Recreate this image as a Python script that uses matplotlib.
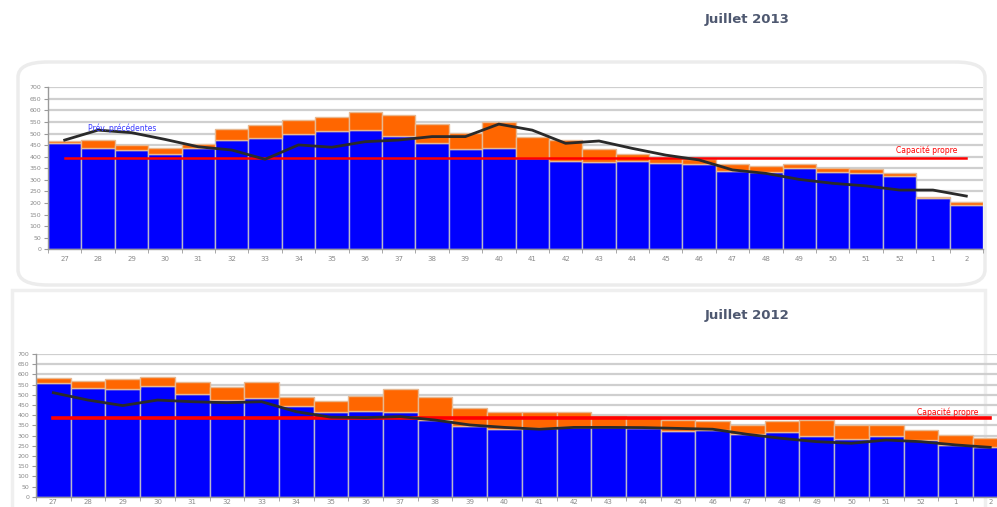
import matplotlib.pyplot as plt
from matplotlib.patches import FancyBboxPatch
import numpy as np

# weeks shown on both charts
weeks = ["27", "28", "29", "30", "31", "32", "33", "34", "35", "36", "37", "38", "39", "40",
         "41", "42", "43", "44", "45", "46", "47", "48", "49", "50", "51", "52", "1", "2"]

# Juillet 2013
blue_2013 = [458, 436, 429, 410, 436, 472, 480, 498, 511, 515, 491, 458, 432, 436,
             393, 382, 377, 382, 372, 367, 338, 335, 350, 333, 331, 318, 220, 191]
total_2013 = [470, 472, 451, 436, 455, 518, 537, 559, 570, 595, 580, 541, 504, 551,
              487, 472, 432, 410, 393, 390, 369, 360, 367, 353, 346, 331, 227, 206]
prev_2013 = [472, 515, 504, 475, 443, 429, 389, 451, 441, 465, 472, 487, 487, 541,
             515, 458, 468, 436, 407, 386, 343, 328, 302, 285, 274, 256, 256, 230]
capa_2013 = 393

# Juillet 2012
blue_2012 = [556, 535, 528, 543, 504, 474, 486, 445, 417, 420, 417, 376, 347, 331,
             335, 340, 340, 339, 324, 327, 308, 319, 299, 282, 298, 278, 254, 245]
total_2012 = [581, 568, 577, 586, 561, 540, 564, 491, 470, 494, 528, 491, 434, 417,
              414, 414, 396, 389, 376, 371, 352, 371, 376, 352, 352, 327, 303, 286]
prev_2012 = [510, 474, 447, 474, 466, 461, 466, 417, 390, 388, 393, 376, 352, 340,
             331, 340, 340, 339, 335, 331, 306, 286, 270, 262, 278, 270, 254, 242]
capa_2012 = 388

W, H = 997, 507
fig = plt.figure(figsize=(W / 100, H / 100), dpi=100)

# panel frames (pixel coords -> figure fraction)
def px(x0, y0, x1, y1):
    return [x0 / W, 1 - y1 / H, (x1 - x0) / W, (y1 - y0) / H]

frame_top = FancyBboxPatch((18 / W, 1 - 285 / H), (985 - 18) / W, (285 - 62) / H,
                           boxstyle="round,pad=0,rounding_size=0.03",
                           transform=fig.transFigure, fc="none", ec="#ececec", lw=2.5,
                           zorder=-5)
fig.patches.append(frame_top)
frame_bot = FancyBboxPatch((12 / W, 1 - 560 / H), (985 - 12) / W, (560 - 290) / H,
                           boxstyle="square,pad=0",
                           transform=fig.transFigure, fc="none", ec="#efefef", lw=2.5,
                           zorder=-5)
fig.patches.append(frame_bot)

fig.text(747 / W, 1 - 19 / H, "Juillet 2013", ha="center", va="center",
         fontsize=9.5, fontweight="bold", color="#4e5870")
fig.text(747 / W, 1 - 315 / H, "Juillet 2012", ha="center", va="center",
         fontsize=9.5, fontweight="bold", color="#4e5870")


def draw(ax, blue, total, prev, capa, lbl_y, lw_red, pad):
    x = np.arange(len(weeks))
    orange = np.array(total) - np.array(blue)
    ax.patch.set_alpha(0)
    for v in range(50, 750, 50):
        ax.axhline(v, color="#cfcfcf", lw=1.6, zorder=0)
    ax.bar(x, blue, width=1.0, color="#0000ff", edgecolor="#b8b8cc", lw=1.0, zorder=2)
    ax.bar(x, orange, width=1.0, bottom=blue, color="#ff6600", edgecolor="#e8b890",
           lw=1.0, zorder=2)
    ax.plot(x, [capa] * len(x), color="#ff0000", lw=lw_red, zorder=3)
    ax.plot(x, prev, color="#2a2a2a", lw=2.0, zorder=4)
    ax.text(24.9, lbl_y, "Capacité propre", color="#ff0000", fontsize=5.5,
            ha="left", va="center", zorder=5)
    ax.set_xlim(-0.5, len(weeks) - 0.5)
    ax.set_ylim(0, 700)
    ax.set_yticks(range(0, 750, 50))
    ax.set_yticklabels([str(v) for v in range(0, 750, 50)], fontsize=4.5, color="#8a8a8a")
    ax.set_xticks(x)
    ax.set_xticklabels(weeks, fontsize=5, color="#8a8a8a")
    ax.set_xticks(np.arange(-0.5, len(weeks), 1), minor=True)
    ax.tick_params(axis="x", which="major", length=0, pad=pad)
    ax.tick_params(axis="x", which="minor", length=3, color="#9a9a9a")
    ax.tick_params(axis="y", length=3, color="#9a9a9a", pad=2)
    for s in ["top", "right"]:
        ax.spines[s].set_visible(False)
    for s in ["left", "bottom"]:
        ax.spines[s].set_color("#9a9a9a")
        ax.spines[s].set_linewidth(1.0)


ax1 = fig.add_axes(px(48, 87.3, 983, 249.3))
draw(ax1, blue_2013, total_2013, prev_2013, capa_2013, 430, 1.8, 5)
ax1.text(0.7, 524, "Prév. précédentes", color="#3a3aff", fontsize=5.5,
         ha="left", va="center", zorder=5)

ax2 = fig.add_axes(px(36, 354, 36 + 28 * 34.7, 496.7))
draw(ax2, blue_2012, total_2012, prev_2012, capa_2012, 412, 2.6, 1.5)

fig.savefig("out.png", dpi=100)
